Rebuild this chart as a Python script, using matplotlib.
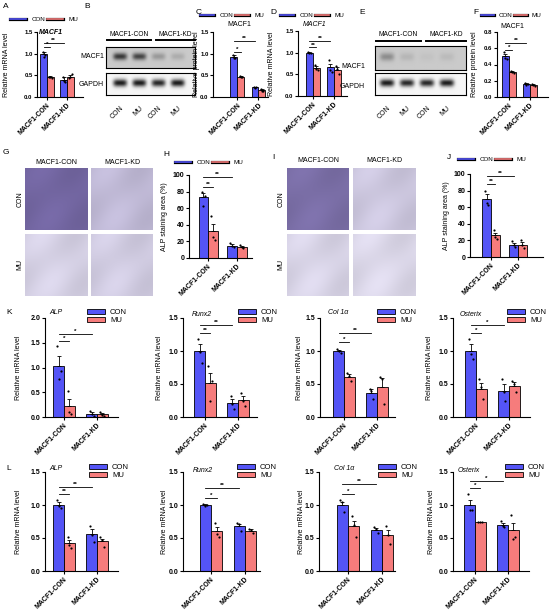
import numpy as np
import matplotlib
matplotlib.use('Agg')
import matplotlib.pyplot as plt
import matplotlib.patheffects as pe
from matplotlib.lines import Line2D
from matplotlib.patches import Patch
import matplotlib.transforms as mtrans

plt.rcParams['font.family'] = ['Liberation Sans', 'DejaVu Sans']
plt.rcParams['axes.linewidth'] = 0.8

W, H = 550, 615
BLUE = '#5454F6'
RED = '#F67C7C'

groups = ['MACF1-CON', 'MACF1-KD']
lanes = ['CON', 'MU', 'CON', 'MU']

# --- A: MACF1 mRNA
a_con = [1.00, 0.40]; a_con_err = [0.04, 0.06]
a_mu = [0.46, 0.47]; a_mu_err = [0.02, 0.04]
a_con_pts = [[1.05, 0.98, 0.93], [0.47, 0.35, 0.38]]
a_mu_pts = [[0.47, 0.45, 0.46], [0.43, 0.52, 0.46]]
a_sig = [1.15, 1.25]; a_stars = ['*', '**']

# --- B: western blot band intensities
b_macf1 = [0.60, 0.55, 0.20, 0.12]
b_gapdh = [0.90, 0.90, 0.85, 0.90]

# --- C: MACF1 protein
c_con = [0.92, 0.22]; c_con_err = [0.04, 0.01]
c_mu = [0.47, 0.16]; c_mu_err = [0.01, 0.02]
c_con_pts = [[0.97, 0.90, 0.90], [0.22, 0.23, 0.21]]
c_mu_pts = [[0.48, 0.47, 0.46], [0.18, 0.15, 0.15]]
c_sig = [1.05, 1.29]; c_stars = ['*', '**']

# --- D: MACF1 mRNA
d_con = [1.00, 0.66]; d_con_err = [0.02, 0.08]
d_mu = [0.65, 0.61]; d_mu_err = [0.05, 0.06]
d_con_pts = [[1.02, 0.99, 0.99], [0.82, 0.56, 0.60]]
d_mu_pts = [[0.72, 0.60, 0.63], [0.70, 0.50, 0.63]]
d_sig = [1.12, 1.26]; d_stars = ['**', '**']

# --- E: western blot band intensities
e_macf1 = [0.25, 0.08, 0.03, 0.06]
e_gapdh = [0.90, 0.85, 0.85, 0.90]

# --- F: MACF1 protein
f_con = [0.50, 0.16]; f_con_err = [0.03, 0.01]
f_mu = [0.31, 0.15]; f_mu_err = [0.01, 0.01]
f_con_pts = [[0.55, 0.47, 0.48], [0.17, 0.16, 0.15]]
f_mu_pts = [[0.32, 0.30, 0.31], [0.16, 0.14, 0.15]]
f_sig = [0.58, 0.67]; f_stars = ['*', '**']

# --- G / I: ALP staining intensity (rows CON, MU; cols MACF1-CON, MACF1-KD)
g_stain = [[0.80, 0.30], [0.16, 0.19]]
i_stain = [[0.75, 0.22], [0.14, 0.12]]

# --- H: ALP staining area
h_con = [73, 15]; h_con_err = [5, 2]
h_mu = [32, 13]; h_mu_err = [9, 1.5]
h_con_pts = [[80, 75, 63], [18, 13, 14]]
h_mu_pts = [[50, 22, 25], [16, 12, 13]]
h_sig = [86, 98]; h_stars = ['**', '**']

# --- J: ALP staining area
j_con = [70, 15]; j_con_err = [6, 2]
j_mu = [26, 15]; j_mu_err = [3, 3]
j_con_pts = [[80, 63, 65], [19, 12, 14]]
j_mu_pts = [[32, 22, 24], [20, 11, 14]]
j_sig = [88, 98]; j_stars = ['**', '**']

# --- K row
k1_con = [1.03, 0.07]; k1_con_err = [0.20, 0.04]
k1_mu = [0.22, 0.06]; k1_mu_err = [0.15, 0.03]
k1_con_pts = [[1.43, 0.92, 0.77], [0.13, 0.02, 0.06]]
k1_mu_pts = [[0.52, 0.07, 0.10], [0.10, 0.03, 0.05]]
k1_sig = [1.53, 1.68]; k1_stars = ['*', '*']

k2_con = [1.00, 0.21]; k2_con_err = [0.10, 0.06]
k2_mu = [0.51, 0.26]; k2_mu_err = [0.16, 0.06]
k2_con_pts = [[1.18, 0.82, 0.98], [0.32, 0.12, 0.20]]
k2_mu_pts = [[0.77, 0.55, 0.25], [0.36, 0.17, 0.25]]
k2_sig = [1.27, 1.40]; k2_stars = ['**', '**']

k3_con = [1.00, 0.37]; k3_con_err = [0.02, 0.05]
k3_mu = [0.61, 0.46]; k3_mu_err = [0.04, 0.13]
k3_con_pts = [[1.03, 0.97, 1.00], [0.42, 0.28, 0.40]]
k3_mu_pts = [[0.66, 0.55, 0.62], [0.60, 0.20, 0.58]]
k3_sig = [1.14, 1.27]; k3_stars = ['*', '**']

k4_con = [1.00, 0.40]; k4_con_err = [0.10, 0.10]
k4_mu = [0.42, 0.47]; k4_mu_err = [0.09, 0.06]
k4_con_pts = [[1.18, 0.88, 0.95], [0.58, 0.25, 0.38]]
k4_mu_pts = [[0.57, 0.27, 0.45], [0.55, 0.38, 0.50]]
k4_sig = [1.28, 1.40]; k4_stars = ['*', '*']

# --- L row
l1_con = [1.00, 0.56]; l1_con_err = [0.04, 0.07]
l1_mu = [0.42, 0.45]; l1_mu_err = [0.05, 0.04]
l1_con_pts = [[1.07, 0.95, 0.98], [0.68, 0.44, 0.55]]
l1_mu_pts = [[0.52, 0.35, 0.40], [0.52, 0.37, 0.47]]
l1_sig = [1.17, 1.27]; l1_stars = ['**', '**']

l2_con = [1.00, 0.68]; l2_con_err = [0.01, 0.03]
l2_mu = [0.60, 0.61]; l2_mu_err = [0.07, 0.02]
l2_con_pts = [[1.01, 1.00, 0.99], [0.73, 0.61, 0.71]]
l2_mu_pts = [[0.73, 0.52, 0.56], [0.64, 0.57, 0.62]]
l2_sig = [1.11, 1.26]; l2_stars = ['*', '**']

l3_con = [1.00, 0.62]; l3_con_err = [0.05, 0.03]
l3_mu = [0.68, 0.54]; l3_mu_err = [0.08, 0.08]
l3_con_pts = [[1.07, 0.90, 1.04], [0.66, 0.57, 0.64]]
l3_mu_pts = [[0.83, 0.52, 0.70], [0.68, 0.41, 0.55]]
l3_sig = [1.17, 1.32]; l3_stars = ['*', '**']

l4_con = [1.00, 0.70]; l4_con_err = [0.08, 0.03]
l4_mu = [0.74, 0.62]; l4_mu_err = [0.01, 0.10]
l4_con_pts = [[1.17, 0.92, 0.92], [0.76, 0.67, 0.68]]
l4_mu_pts = [[0.74, 0.74, 0.75], [0.85, 0.52, 0.48]]
l4_sig = [1.26, 1.36]; l4_stars = ['*', '*']


fig = plt.figure(figsize=(W / 100, H / 100), dpi=100)


def box(x0, y0, x1, y1):
    return [x0 / W, 1 - y1 / H, (x1 - x0) / W, (y1 - y0) / H]


def fx(x):
    return x / W


def fy(y):
    return 1 - y / H


def ftext(x, y, s, **kw):
    kw.setdefault('fontsize', 5)
    fig.text(fx(x), fy(y), s, **kw)


def bar_panel(rect, xlim, ylim, yticks, yfmt, con, con_err, mu, mu_err,
              con_pts, mu_pts, sig, stars, ylabel, ylabel_x, tick_fs=5):
    ax = fig.add_axes(box(*rect))
    x = np.arange(len(groups))
    w = 0.33
    ax.bar(x - w / 2, con, w, color=BLUE, edgecolor='black', linewidth=0.6, zorder=2)
    ax.bar(x + w / 2, mu, w, color=RED, edgecolor='black', linewidth=0.6, zorder=2)
    for xs, m, e in [(x - w / 2, con, con_err), (x + w / 2, mu, mu_err)]:
        ax.errorbar(xs, m, yerr=[np.zeros(len(m)), e], fmt='none', ecolor='black',
                    elinewidth=0.6, capsize=1.6, capthick=0.6, zorder=3)
    offs = np.array([-0.06, 0.06, 0.0])
    for i in range(len(groups)):
        ax.scatter(x[i] - w / 2 + offs, con_pts[i], s=2.5, color='black', zorder=4, linewidths=0)
        ax.scatter(x[i] + w / 2 + offs, mu_pts[i], s=2.5, color='black', zorder=4, linewidths=0)
    # significance lines: CON vs MU inside MACF1-CON, and MACF1-CON vs MACF1-KD
    pairs = [(x[0] - w / 2, x[0] + w / 2), (x[0] - w / 2, x[1] - w / 2)]
    for (x1, x2), yv, st in zip(pairs, sig, stars):
        ax.plot([x1, x2], [yv, yv], color='black', lw=0.6, clip_on=False)
        ax.text((x1 + x2) / 2, yv, st, ha='center', va='bottom', fontsize=4.5,
                fontweight='bold', clip_on=False)
    ax.set_xlim(*xlim)
    ax.set_ylim(*ylim)
    ax.set_yticks(yticks)
    ax.set_yticklabels([yfmt.format(v) for v in yticks], fontsize=tick_fs, fontweight='bold')
    ax.set_xticks(x)
    ax.set_xticklabels(groups, rotation=45, ha='right', rotation_mode='anchor',
                       fontsize=5, fontweight='bold')
    ax.tick_params(axis='both', length=2, width=0.8, pad=1.2)
    ax.spines['top'].set_visible(False)
    ax.spines['right'].set_visible(False)
    ax.set_ylabel(ylabel, fontsize=5)
    ax.yaxis.set_label_coords((ylabel_x - rect[0]) / (rect[2] - rect[0]), 0.5)
    return ax


def line_legend(x, y, fs=4.5, hl=2.6):
    hs = [Line2D([0], [0], color=c, lw=1.2,
                 path_effects=[pe.Stroke(linewidth=2.3, foreground='black'), pe.Normal()])
          for c in (BLUE, RED)]
    fig.legend(hs, ['CON', 'MU'], loc='center left', bbox_to_anchor=(fx(x), fy(y)),
               ncol=2, frameon=False, fontsize=fs, handlelength=hl, handletextpad=0.8,
               columnspacing=0.3, borderaxespad=0, borderpad=0)


def patch_legend(x, y):
    hs = [Patch(facecolor=c, edgecolor='black', linewidth=0.6) for c in (BLUE, RED)]
    fig.legend(hs, ['CON', 'MU'], loc='upper left', bbox_to_anchor=(fx(x), fy(y)),
               frameon=False, fontsize=5.5, handlelength=2.4, handleheight=0.6,
               labelspacing=0.15, handletextpad=0.6, borderaxespad=0, borderpad=0)


def blot(rect, xlim, intens, bg, band_w=0.36, band_y=0.45, band_h=0.17):
    ax = fig.add_axes(box(*rect))
    nx, ny = 300, 60
    xs = np.linspace(xlim[0], xlim[1], nx)
    ys = np.linspace(0, 1, ny)
    X, Y = np.meshgrid(xs, ys)
    img = np.full((ny, nx), bg)
    for i, v in enumerate(intens):
        img += v * np.exp(-((X - i) / band_w) ** 4) * np.exp(-((Y - band_y) / band_h) ** 2)
    ax.imshow(img, cmap='gray_r', vmin=0, vmax=1.05, aspect='auto',
              extent=(xlim[0], xlim[1], 1, 0), interpolation='bilinear')
    ax.set_xlim(*xlim)
    ax.set_ylim(1, 0)
    ax.set_yticks([])
    ax.set_xticks([])
    return ax


def blot_panel(top_rect, bot_rect, xlim, macf1, gapdh, bar_y, lab_y, lab_x, macf1_y, gapdh_y):
    ax1 = blot(top_rect, xlim, macf1, 0.22)
    ax2 = blot(bot_rect, xlim, gapdh, 0.04)
    ax2.set_xticks(range(len(lanes)))
    ax2.set_xticklabels(lanes, rotation=45, ha='right', rotation_mode='anchor', fontsize=5)
    ax2.tick_params(axis='x', length=0, pad=7)
    tr = mtrans.blended_transform_factory(ax1.transAxes, fig.transFigure)
    for (x0, x1), name in zip([(0.01, 0.5), (0.56, 1.0)], groups):
        ax1.plot([x0, x1], [fy(bar_y)] * 2, color='black', lw=1.4, transform=tr, clip_on=False)
        ax1.text((x0 + x1) / 2, fy(lab_y), name, ha='center', va='center', fontsize=4.8,
                 transform=tr)
    ftext(lab_x, macf1_y, 'MACF1', ha='right', va='center')
    ftext(lab_x, gapdh_y, 'GAPDH', ha='right', va='center')


def stain_panel(x0, y0, size, gap, stain, col_y, row_x):
    dark = np.array([0.33, 0.27, 0.55])
    light = np.array([0.93, 0.92, 0.96])
    for r in range(2):
        for c in range(2):
            xa = x0 + c * (size + gap)
            ya = y0 + r * (size + gap)
            ax = fig.add_axes(box(xa, ya, xa + size, ya + size))
            v = stain[r][c]
            n = 40
            yy, xx = np.mgrid[0:n, 0:n] / n
            shade = 1 + 0.05 * np.sin(6 * xx + 3 * yy) * np.cos(4 * yy)
            col = light + (dark - light) * v
            img = np.clip(col[None, None, :] * shade[:, :, None], 0, 1)
            ax.imshow(img, aspect='auto', interpolation='bilinear')
            ax.axis('off')
    for c, name in enumerate(groups):
        ftext(x0 + c * (size + gap) + size / 2, col_y, name, ha='center', va='center')
    for r, name in enumerate(['CON', 'MU']):
        ftext(row_x, y0 + r * (size + gap) + size / 2, name, ha='center', va='center',
              rotation=90)


t15 = [0, 0.5, 1.0, 1.5]

# Row 1
bar_panel((37, 32, 83, 97), (-0.5, 1.8), (0, 1.5), t15, '{:.1f}', a_con, a_con_err, a_mu,
          a_mu_err, a_con_pts, a_mu_pts, a_sig, a_stars, 'Relative mRNA level', 10, tick_fs=4.3)
line_legend(10, 19)
ftext(39, 32, 'MACF1', style='italic', fontweight='bold', va='center')

blot_panel((106, 47, 195, 68), (106, 73, 195, 95), (-0.73, 3.89), b_macf1, b_gapdh,
           40, 34, 104, 57, 85)

bar_panel((213, 32, 268, 97), (-1.15, 1.45), (0, 1.5), t15, '{:.1f}', c_con, c_con_err, c_mu,
          c_mu_err, c_con_pts, c_mu_pts, c_sig, c_stars, 'Relative protein level', 200, tick_fs=4.3)
line_legend(200, 15, hl=2.3)
ftext(227, 25, 'MACF1', va='center')

bar_panel((298, 31, 347, 96), (-0.71, 1.62), (0, 1.5), t15, '{:.1f}', d_con, d_con_err, d_mu,
          d_mu_err, d_con_pts, d_mu_pts, d_sig, d_stars, 'Relative mRNA level', 275, tick_fs=4.3)
line_legend(280, 15, hl=2.3)
ftext(303, 25, 'MACF1', style='italic', va='center')

blot_panel((375, 46, 466, 70), (375, 73, 466, 95), (-0.6, 3.95), e_macf1, e_gapdh,
           41, 34, 365, 67, 86)

bar_panel((497, 32, 548, 97), (-0.57, 1.86), (0, 0.8), [0, 0.2, 0.4, 0.6, 0.8], '{:.1f}',
          f_con, f_con_err, f_mu, f_mu_err, f_con_pts, f_mu_pts, f_sig, f_stars,
          'Relative protein level', 478, tick_fs=4.3)
line_legend(481, 15, hl=2.0)
ftext(500, 27, 'MACF1', va='center')

# Row 2
stain_panel(25, 168, 62, 4, g_stain, 162, 20)
t100 = [0, 20, 40, 60, 80, 100]
bar_panel((189, 175, 252, 258), (-0.66, 1.52), (0, 100), t100, '{:d}', h_con, h_con_err, h_mu,
          h_mu_err, h_con_pts, h_mu_pts, h_sig, h_stars, 'ALP staining area (%)', 168)
line_legend(175, 162)

stain_panel(287, 168, 62, 4, i_stain, 161, 281)
bar_panel((470, 174, 543, 257), (-0.78, 1.93), (0, 100), t100, '{:d}', j_con, j_con_err, j_mu,
          j_mu_err, j_con_pts, j_mu_pts, j_sig, j_stars, 'ALP staining area (%)', 450)
line_legend(458, 159)

# Row K
bar_panel((45, 318, 118, 417), (-0.58, 1.64), (0, 2.0), [0, 0.5, 1.0, 1.5, 2.0], '{:.1f}',
          k1_con, k1_con_err, k1_mu, k1_mu_err, k1_con_pts, k1_mu_pts, k1_sig, k1_stars,
          'Relative mRNA level', 22)
bar_panel((183, 318, 257, 417), (-0.67, 1.58), (0, 1.5), t15, '{:.1f}',
          k2_con, k2_con_err, k2_mu, k2_mu_err, k2_con_pts, k2_mu_pts, k2_sig, k2_stars,
          'Relative mRNA level', 163)
bar_panel((320, 318, 395, 417), (-0.73, 1.55), (0, 1.5), t15, '{:.1f}',
          k3_con, k3_con_err, k3_mu, k3_mu_err, k3_con_pts, k3_mu_pts, k3_sig, k3_stars,
          'Relative mRNA level', 303)
bar_panel((453, 318, 530, 417), (-0.70, 1.64), (0, 1.5), t15, '{:.1f}',
          k4_con, k4_con_err, k4_mu, k4_mu_err, k4_con_pts, k4_mu_pts, k4_sig, k4_stars,
          'Relative mRNA level', 433)
for lx in (87, 238, 377, 507):
    patch_legend(lx, 309)
for tx, ty, name in [(49, 313, 'ALP'), (192, 315, 'Runx2'), (328, 313, 'Col 1α'), (460, 315, 'Osterix')]:
    ftext(tx, ty, name, style='italic', va='center')

# Row L
bar_panel((45, 472, 118, 571), (-0.58, 1.64), (0, 1.5), t15, '{:.1f}',
          l1_con, l1_con_err, l1_mu, l1_mu_err, l1_con_pts, l1_mu_pts, l1_sig, l1_stars,
          'Relative mRNA level', 22)
bar_panel((183, 472, 260, 571), (-0.82, 1.44), (0, 1.5), t15, '{:.1f}',
          l2_con, l2_con_err, l2_mu, l2_mu_err, l2_con_pts, l2_mu_pts, l2_sig, l2_stars,
          'Relative mRNA level', 168)
bar_panel((319, 472, 395, 571), (-0.85, 1.38), (0, 1.5), t15, '{:.1f}',
          l3_con, l3_con_err, l3_mu, l3_mu_err, l3_con_pts, l3_mu_pts, l3_sig, l3_stars,
          'Relative mRNA level', 305)
bar_panel((453, 472, 529, 571), (-0.67, 1.64), (0, 1.5), t15, '{:.1f}',
          l4_con, l4_con_err, l4_mu, l4_mu_err, l4_con_pts, l4_mu_pts, l4_sig, l4_stars,
          'Relative mRNA level', 435)
for lx in (89, 237, 378, 505):
    patch_legend(lx, 464)
for tx, ty, name in [(49, 468, 'ALP'), (193, 470, 'Runx2'), (334, 468, 'Col 1α'), (458, 470, 'Osterix')]:
    ftext(tx, ty, name, style='italic', va='center')

# Panel letters
for lx, ly, s in [(3, 7, 'A'), (84, 7, 'B'), (196, 12, 'C'), (270, 12, 'D'), (359, 12, 'E'),
                  (473, 12, 'F'), (3, 153, 'G'), (163, 154, 'H'), (272, 157, 'I'),
                  (447, 157, 'J'), (6, 313, 'K'), (6, 468, 'L')]:
    ftext(lx, ly, s, fontsize=6, va='center')

fig.savefig('out.png', dpi=100)
